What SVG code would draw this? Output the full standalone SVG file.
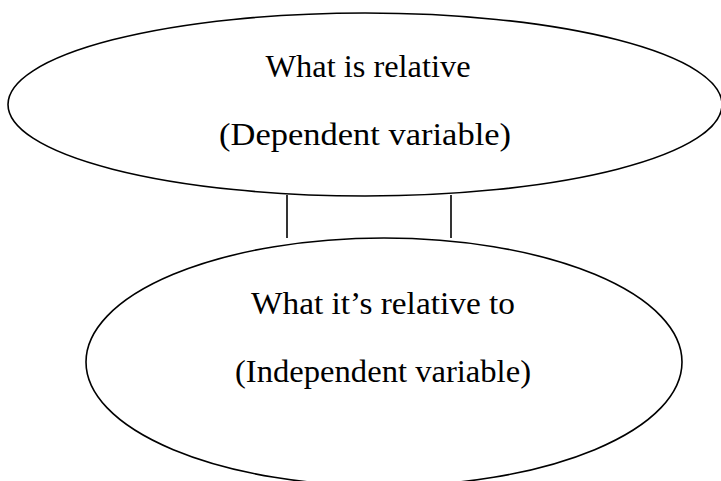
<svg xmlns="http://www.w3.org/2000/svg" width="721" height="481" viewBox="0 0 721 481">
<style>
.shape{fill:none;stroke:#000;stroke-width:1.6}
.lbl{font-family:"Liberation Serif","Times New Roman",serif;font-size:32px;fill:#000;text-anchor:middle}
</style>
<rect width="721" height="481" fill="#fff"/>
<g id="connectors">
<line class="shape" x1="287" y1="195" x2="287" y2="238"/>
<line class="shape" x1="451" y1="195" x2="451" y2="238"/>
</g>
<g id="dependent">
<ellipse class="shape" cx="365" cy="104.5" rx="357" ry="91.5"/>
<text class="lbl" x="368" y="77" textLength="205" lengthAdjust="spacingAndGlyphs">What is relative</text>
<text class="lbl" x="365" y="145" textLength="292" lengthAdjust="spacingAndGlyphs">(Dependent variable)</text>
</g>
<g id="independent">
<ellipse class="shape" cx="384" cy="362" rx="298" ry="124"/>
<text class="lbl" x="383" y="314" textLength="264" lengthAdjust="spacingAndGlyphs">What it’s relative to</text>
<text class="lbl" x="383" y="382" textLength="296" lengthAdjust="spacingAndGlyphs">(Independent variable)</text>
</g>
</svg>
